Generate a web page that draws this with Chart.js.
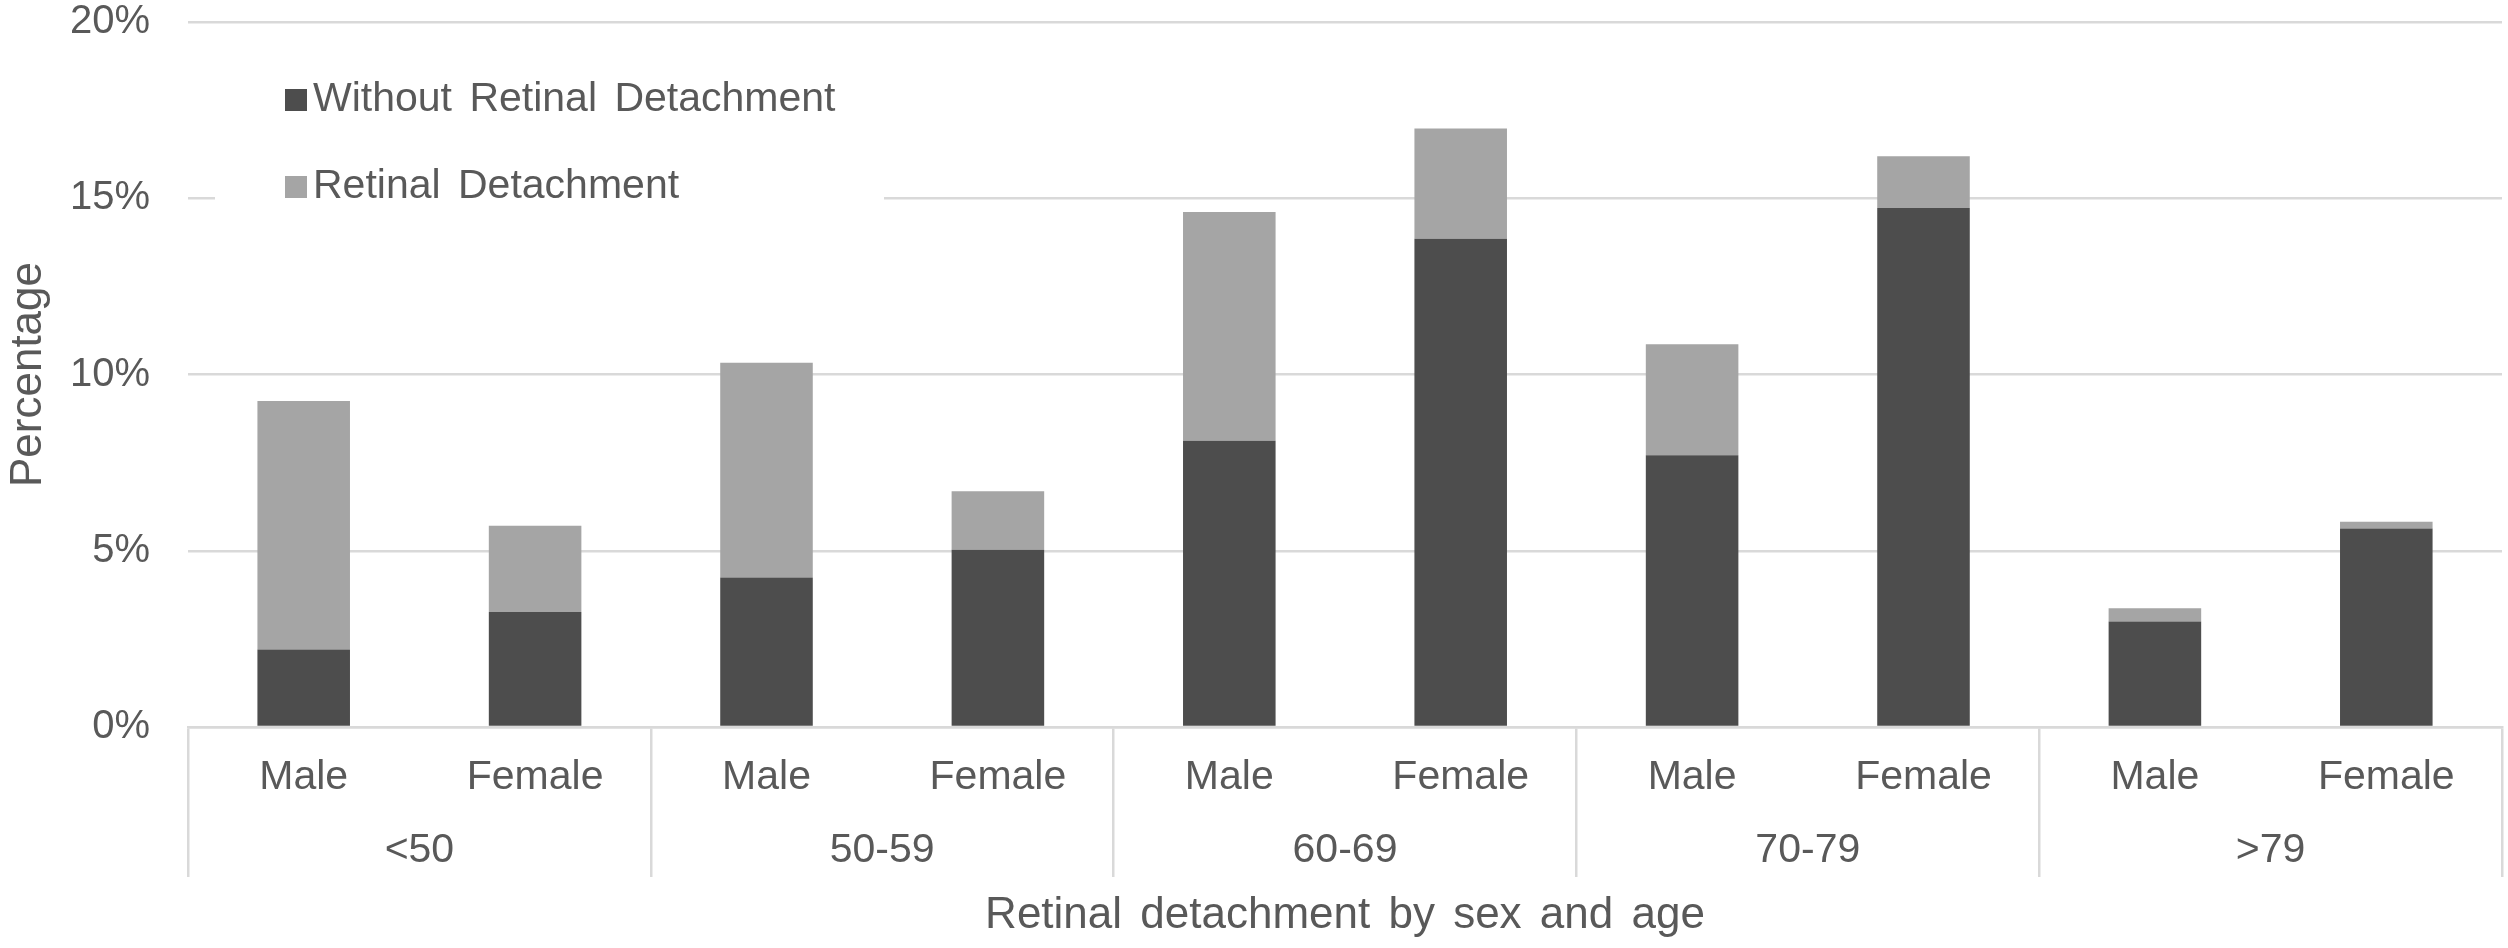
<!DOCTYPE html>
<html>
<head>
<meta charset="utf-8">
<script src="https://cdn.jsdelivr.net/npm/chart.js@4.4.1/dist/chart.umd.min.js"></script>
<style>
  html, body { margin: 0; padding: 0; background: #fff; }
</style>
</head>
<body>
<canvas id="chartRetina" width="2508" height="948"></canvas>
<script>
// Dados (percentagens)
const sexLabels = ['Male', 'Female', 'Male', 'Female', 'Male', 'Female', 'Male', 'Female', 'Male', 'Female'];
const ageGroups = ['<50', '50-59', '60-69', '70-79', '>79'];
const withoutRD = [2.20, 3.26, 4.24, 5.03, 8.12, 13.85, 7.71, 14.72, 2.99, 5.63];
const withRD = [7.05, 2.45, 6.09, 1.66, 6.49, 3.13, 3.15, 1.47, 0.38, 0.19];
const seriesNames = ['Without Retinal Detachment', 'Retinal Detachment'];

const TEXT = '#595959';
const GRID = '#d9d9d9';
const COLORS = ['#4d4d4d', '#a5a5a5'];

Chart.defaults.font.family = "'Liberation Sans', Arial, sans-serif";
Chart.defaults.color = TEXT;

/**
 * Legenda desenhada à mão (caixa branca dentro da área do gráfico)
 */
const legendBox = {
  id: 'legendBox',
  beforeDraw(chart) {
    chart.ctx.wordSpacing = '6px';
  },
  afterDraw(chart) {
    const ctx = chart.ctx;
    ctx.save();
    ctx.fillStyle = '#fff';
    ctx.fillRect(215, 50, 669, 175);
    ctx.font = "41px 'Liberation Sans', Arial, sans-serif";
    ctx.textBaseline = 'middle';
    ctx.textAlign = 'left';
    chart.data.datasets.forEach(function(ds, i) {
      const cy = 100 + i * 87;
      ctx.fillStyle = ds.backgroundColor;
      ctx.fillRect(285, cy - 11, 22, 22);
      ctx.fillStyle = TEXT;
      ctx.fillText(ds.label, 313, cy);
    });
    ctx.restore();
  }
};

new Chart(document.getElementById('chartRetina'), {
  type: 'bar',
  data: {
    labels: sexLabels,
    datasets: [
      { label: seriesNames[0], data: withoutRD, backgroundColor: COLORS[0] },
      { label: seriesNames[1], data: withRD, backgroundColor: COLORS[1] }
    ]
  },
  options: {
    responsive: false,
    animation: false,
    devicePixelRatio: 1,
    layout: { padding: { top: 22, right: 6, left: 0, bottom: 0 } },
    datasets: { bar: { categoryPercentage: 1, barPercentage: 0.4 } },
    plugins: {
      legend: { display: false },
      tooltip: { enabled: false }
    },
    scales: {
      x: {
        stacked: true,
        offset: true,
        weight: 0,
        grid: {
          drawOnChartArea: false,
          offset: true,
          tickLength: 88,
          lineWidth: 2.5,
          color: function(c) {
            return (c.type === 'scale' || c.index % 2 === 0) ? GRID : 'rgba(0,0,0,0)';
          }
        },
        border: { display: true, color: GRID, width: 2.5 },
        ticks: { font: { size: 41 }, color: TEXT, padding: -62, maxRotation: 0, autoSkip: false },
        afterFit: function(s) { s.height = 88; }
      },
      x2: {
        type: 'category',
        labels: ageGroups,
        position: 'bottom',
        offset: true,
        weight: 1,
        grid: {
          drawOnChartArea: false,
          offset: true,
          tickLength: 62,
          lineWidth: 2.5,
          color: GRID
        },
        border: { display: false },
        ticks: { font: { size: 41 }, color: TEXT, padding: -51, maxRotation: 0, autoSkip: false },
        title: {
          display: true,
          text: 'Retinal detachment by sex and age',
          font: { size: 44 },
          color: TEXT,
          padding: { top: 0, bottom: 6 }
        },
        afterFit: function(s) { s.height = 133; }
      },
      y: {
        stacked: true,
        min: 0,
        max: 20,
        ticks: {
          stepSize: 5,
          font: { size: 40, lineHeight: 1 },
          color: TEXT,
          padding: 38,
          callback: function(v) { return v + '%'; }
        },
        grid: { color: GRID, lineWidth: 2.5, drawTicks: false },
        border: { display: false },
        title: {
          display: true,
          text: 'Percentage',
          font: { size: 44 },
          color: TEXT,
          padding: { top: 2, bottom: 0 }
        },
        afterFit: function(s) {
          s.width = 188;
          // o padding dos ticks não deve empurrar a área do gráfico
          s.paddingTop = 0;
          s.paddingBottom = 0;
        }
      }
    }
  },
  plugins: [legendBox]
});
</script>
</body>
</html>
